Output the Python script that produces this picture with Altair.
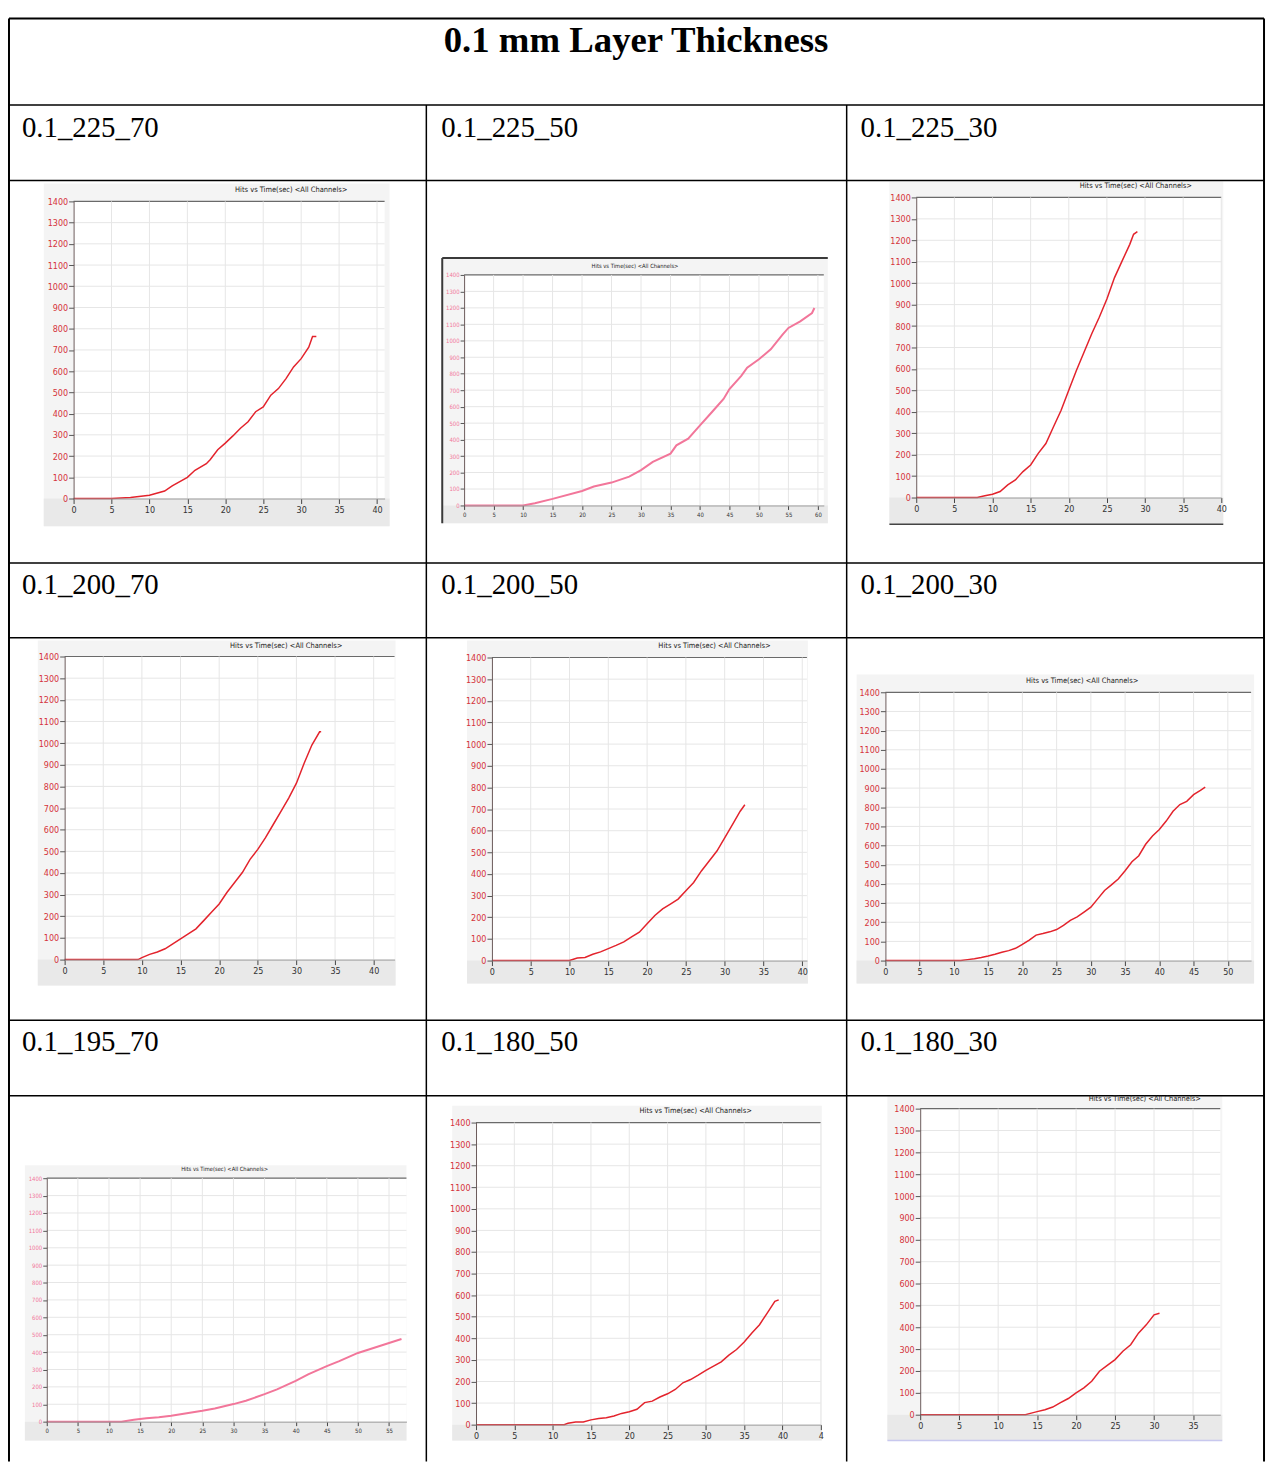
import altair as alt
import pandas as pd

# ---------------- data ----------------
TITLE = "0.1 mm Layer Thickness"
CHART_TITLE = "Hits vs Time(sec) <All Channels>"
LABELS = ["0.1_225_70", "0.1_225_50", "0.1_225_30",
          "0.1_200_70", "0.1_200_50", "0.1_200_30",
          "0.1_195_70", "0.1_180_50", "0.1_180_30"]

YTICKS = [0, 100, 200, 300, 400, 500, 600, 700, 800, 900, 1000, 1100, 1200, 1300, 1400]
XT40 = [0, 5, 10, 15, 20, 25, 30, 35, 40]
XT45 = [0, 5, 10, 15, 20, 25, 30, 35, 40, 45]
XT35 = [0, 5, 10, 15, 20, 25, 30, 35]
XT50 = [0, 5, 10, 15, 20, 25, 30, 35, 40, 45, 50]
XT55 = [0, 5, 10, 15, 20, 25, 30, 35, 40, 45, 50, 55]
XT60 = [0, 5, 10, 15, 20, 25, 30, 35, 40, 45, 50, 55, 60]

T1 = [0, 5, 7.5, 10, 12, 13, 15, 16, 17.5, 18, 19, 20, 21, 22, 23, 24, 25, 26, 27, 28, 29, 30, 31, 31.5, 32]
H1 = [0, 0, 5, 15, 35, 60, 100, 133, 164, 183, 230, 261, 295, 331, 362, 409, 432, 487, 518, 565, 620, 659, 713, 763, 763]

T2 = [0, 10, 12, 15, 20, 22, 25, 28, 30, 32, 35, 36, 38, 40, 42, 44, 45, 47, 48, 50, 52, 54, 55, 57, 59, 59.4]
H2 = [0, 0, 14, 40, 88, 115, 139, 175, 215, 265, 315, 365, 406, 486, 566, 647, 707, 787, 837, 888, 948, 1038, 1078, 1118, 1169, 1199]

T3 = [0, 8, 9, 10, 11, 12, 13, 14, 15, 16, 17, 18, 19, 20, 21, 22, 23, 24, 25, 26, 27, 28, 28.5, 29]
H3 = [0, 0, 8, 15, 28, 59, 82, 121, 152, 206, 252, 330, 407, 500, 593, 678, 763, 841, 926, 1026, 1104, 1181, 1228, 1240]

T4 = [0, 9.5, 10, 11, 12, 13, 14, 15, 16, 17, 18, 19, 20, 21, 22, 23, 24, 25, 26, 27, 28, 29, 30, 31, 32, 33, 33.2]
H4 = [0, 0, 9, 24, 35, 50, 73, 96, 119, 142, 180, 219, 257, 310, 356, 402, 463, 509, 563, 624, 685, 746, 815, 907, 991, 1052, 1052]

T5 = [0, 10, 11, 12, 13, 14, 15, 16, 17, 18, 19, 20, 21, 22, 23, 24, 25, 26, 27, 28, 29, 30, 31, 32, 32.6]
H5 = [0, 0, 12, 14, 29, 40, 55, 70, 86, 109, 131, 170, 208, 239, 261, 284, 323, 361, 414, 460, 506, 567, 628, 690, 720]

T6 = [0, 11, 12, 13, 14, 15, 16, 17, 18, 19, 20, 21, 22, 23, 24, 25, 26, 27, 28, 29,
      30, 31, 32, 33, 34, 35, 36, 37, 38, 39, 40, 41, 42, 43, 44, 45, 46, 46.7]
H6 = [0, 0, 5, 10, 16, 24, 33, 43, 52, 64, 84, 107, 133, 141, 150, 162, 184, 210, 228, 253,
      279, 322, 366, 395, 426, 469, 516, 547, 607, 650, 684, 728, 779, 814, 831, 866, 888, 905]

T7 = [0, 12, 14, 16, 18, 20, 22, 25, 27, 30, 32, 35, 37, 40, 42, 45, 47, 50, 52, 55, 57]
H7 = [0, 0, 11, 19, 25, 34, 46, 63, 76, 101, 120, 158, 186, 234, 272, 319, 348, 395, 418, 452, 475]

T8 = [0, 11.5, 12, 13, 14, 15, 16, 17, 18, 19, 20, 21, 22, 23, 24, 25, 26, 27, 28, 29,
      30, 31, 32, 33, 34, 35, 36, 37, 38, 39, 39.5]
H8 = [0, 0, 6, 12, 12, 22, 28, 32, 40, 52, 60, 71, 102, 109, 128, 143, 163, 194, 209, 229,
      251, 271, 291, 322, 348, 383, 425, 463, 517, 571, 578]

T9 = [0, 13.5, 14, 15, 16, 17, 18, 19, 20, 21, 22, 23, 24, 25, 26, 27, 28, 29, 30, 30.7]
H9 = [0, 0, 5, 14, 23, 35, 55, 74, 100, 123, 153, 199, 226, 252, 290, 320, 373, 411, 457, 464]

SERIES = [(T1, H1), (T2, H2), (T3, H3), (T4, H4), (T5, H5),
          (T6, H6), (T7, H7), (T8, H8), (T9, H9)]
XTICKS = [XT40, XT60, XT40, XT40, XT40, XT50, XT55, XT45, XT35]

# ---------------- layout (page pixels) ----------------
PAGE_W, PAGE_BOTTOM, MARGIN = 1275, 1466, 8
W, H = PAGE_W - MARGIN, PAGE_BOTTOM - MARGIN
NARROW = "Liberation Sans Narrow, Arial Narrow, DejaVu Sans Condensed, sans-serif"
SERIF = "Liberation Serif, Times New Roman, serif"
RED = "#e3232c"
PINK = "#f2769a"

GEOM = [
    dict(x0=74, x1=387, y0=497, y1=198, xmax=41, frame=(44, 180, 392, 525), tpos=(293, 187), small=False),
    dict(x0=467, x1=829, y0=504, y1=272, xmax=61, frame=(445, 255, 833, 522), tpos=(639, 263), small=True),
    dict(x0=922, x1=1229, y0=496, y1=194, xmax=40, frame=(895, 178, 1231, 523), tpos=(1143, 183), small=False),
    dict(x0=65, x1=397, y0=961, y1=656, xmax=42.7, frame=(38, 640, 398, 987), tpos=(288, 645), small=False),
    dict(x0=495, x1=812, y0=962, y1=657, xmax=40.6, frame=(470, 640, 813, 985), tpos=(719, 645), small=False),
    dict(x0=891, x1=1259, y0=962, y1=692, xmax=53.4, frame=(862, 674, 1262, 985), tpos=(1089, 681), small=False),
    dict(x0=47, x1=409, y0=1426, y1=1181, xmax=57.8, frame=(25, 1168, 409, 1445), tpos=(226, 1172), small=True),
    dict(x0=479, x1=826, y0=1429, y1=1125, xmax=45, frame=(455, 1108, 827, 1445), tpos=(700, 1113), small=False),
    dict(x0=926, x1=1228, y0=1419, y1=1111, xmax=38.5, frame=(893, 1098, 1230, 1445), tpos=(1152, 1101), small=False),
]

ROW_LINES = [14, 101, 177, 562, 637, 1022, 1098]
COL_X = [9, 429, 852, 1272]
LABEL_POS = [(22, 133), (444, 133), (866, 133),
             (22, 593), (444, 593), (866, 593),
             (22, 1053), (444, 1053), (866, 1053)]


def px():
    return alt.Scale(domain=[MARGIN, PAGE_W], range=[0, W], nice=False, zero=False)


def py():
    return alt.Scale(domain=[MARGIN, PAGE_BOTTOM], range=[0, H], nice=False, zero=False)


# ---------------- page layer: table, frames, texts ----------------
rect_rows = []
line_rows = []
for g in GEOM:
    fx0, fy0, fx1, fy1 = g["frame"]
    rect_rows.append(dict(x=fx0, x2=fx1, y=fy0, y2=fy1, c="#f4f4f4"))
    rect_rows.append(dict(x=fx0, x2=fx1, y=g["y0"], y2=fy1, c="#e9e9e9"))
    rect_rows.append(dict(x=g["x0"], x2=g["x1"], y=g["y1"], y2=g["y0"], c="#ffffff"))
    line_rows.append(dict(x=g["x0"], x2=g["x1"], y=g["y1"], y2=g["y1"], c="#6a6a6a", w=1.2))

g2 = GEOM[1]["frame"]
line_rows.append(dict(x=g2[0], x2=g2[2], y=g2[1], y2=g2[1], c="#3a3a3a", w=2))
line_rows.append(dict(x=g2[0], x2=g2[0], y=g2[1], y2=g2[3], c="#3a3a3a", w=2))
g3 = GEOM[2]["frame"]
line_rows.append(dict(x=g3[0], x2=g3[2], y=g3[3], y2=g3[3], c="#444444", w=1.5))
g9 = GEOM[8]["frame"]
line_rows.append(dict(x=g9[0], x2=g9[2], y=g9[3], y2=g9[3], c="#c8c8ee", w=1.5))

for i, yy in enumerate(ROW_LINES):
    line_rows.append(dict(x=COL_X[0], x2=COL_X[-1], y=yy, y2=yy, c="#000000", w=2 if i == 0 else 1.5))
line_rows.append(dict(x=COL_X[0], x2=COL_X[0], y=ROW_LINES[0], y2=PAGE_BOTTOM, c="#000000", w=2))
line_rows.append(dict(x=COL_X[-1], x2=COL_X[-1], y=ROW_LINES[0], y2=PAGE_BOTTOM, c="#000000", w=2))
for xx in COL_X[1:-1]:
    line_rows.append(dict(x=xx, x2=xx, y=ROW_LINES[1], y2=PAGE_BOTTOM, c="#000000", w=1.5))

page_rects = alt.Chart(pd.DataFrame(rect_rows)).mark_rect().encode(
    x=alt.X("x:Q", scale=px(), axis=None), x2="x2:Q",
    y=alt.Y("y:Q", scale=py(), axis=None), y2="y2:Q",
    color=alt.Color("c:N", scale=None),
)
page_lines = alt.Chart(pd.DataFrame(line_rows)).mark_rule().encode(
    x=alt.X("x:Q", scale=px(), axis=None), x2="x2:Q",
    y=alt.Y("y:Q", scale=py(), axis=None), y2="y2:Q",
    color=alt.Color("c:N", scale=None),
    strokeWidth=alt.StrokeWidth("w:Q", scale=None),
)
title_text = alt.Chart(pd.DataFrame([dict(x=640, y=48, s=TITLE)])).mark_text(
    font=SERIF, fontSize=37, fontWeight="bold", align="center", baseline="alphabetic", color="#000000"
).encode(x=alt.X("x:Q", scale=px(), axis=None), y=alt.Y("y:Q", scale=py(), axis=None), text="s:N")

label_text = alt.Chart(pd.DataFrame(
    [dict(x=p[0], y=p[1], s=l) for p, l in zip(LABEL_POS, LABELS)]
)).mark_text(
    font=SERIF, fontSize=29, align="left", baseline="alphabetic", color="#000000"
).encode(x=alt.X("x:Q", scale=px(), axis=None), y=alt.Y("y:Q", scale=py(), axis=None), text="s:N")

ct_rows = [dict(x=g["tpos"][0], y=g["tpos"][1], s=CHART_TITLE, f=5.8 if g["small"] else 7.5) for g in GEOM]
chart_titles = alt.Chart(pd.DataFrame(ct_rows)).mark_text(
    font=NARROW, align="center", baseline="middle", color="#222222"
).encode(x=alt.X("x:Q", scale=px(), axis=None), y=alt.Y("y:Q", scale=py(), axis=None), text="s:N",
         size=alt.Size("f:Q", scale=None))

layers = [page_rects, page_lines, title_text, label_text, chart_titles]


# ---------------- chart panels ----------------
def panel(i):
    g = GEOM[i]
    T, Hs = SERIES[i]
    xt = XTICKS[i]
    small = g["small"]
    fs = 6 if small else 9
    col = PINK if small else RED

    def xs():
        return alt.Scale(domain=[0, g["xmax"]], range=[g["x0"] - MARGIN, g["x1"] - MARGIN], nice=False, zero=False)

    def ys():
        return alt.Scale(domain=[0, 1400], range=[g["y0"] - MARGIN, g["y1"] - MARGIN], nice=False, zero=False)

    vg = alt.Chart(pd.DataFrame({"t": xt[1:], "lo": 0, "hi": 1400})).mark_rule(
        color="#e6e6e6", strokeWidth=1
    ).encode(x=alt.X("t:Q", scale=xs(), axis=None), y=alt.Y("lo:Q", scale=ys(), axis=None), y2="hi:Q")
    hg = alt.Chart(pd.DataFrame({"h": YTICKS[1:-1], "lo": 0, "hi": g["xmax"]})).mark_rule(
        color="#e6e6e6", strokeWidth=1
    ).encode(y=alt.Y("h:Q", scale=ys(), axis=None), x=alt.X("lo:Q", scale=xs(), axis=None), x2="hi:Q")

    xaxis_kw = dict(
        orient="bottom", offset=g["y0"] - MARGIN - H, values=xt, title=None, grid=False,
        domainColor="#9a9a9a", tickColor="#444444", tickSize=5 if not small else 4,
        labelColor="#333333", labelFont=NARROW, labelFontSize=fs, labelPadding=2,
        labelFlush=False, labelOverlap=False, format="d", zindex=1,
    )
    if i == 7:
        xaxis_kw["labelExpr"] = "datum.value == 45 ? '4' : datum.label"
    xaxis = alt.Axis(**xaxis_kw)
    yaxis = alt.Axis(
        orient="left", offset=MARGIN - g["x0"], values=YTICKS, title=None, grid=False,
        domainColor="#6a5a5a", tickColor="#555555", tickSize=5 if not small else 4,
        labelColor=col if small else "#d4333b", labelFont=NARROW, labelFontSize=fs,
        labelPadding=1, labelFlush=False, labelOverlap=False, format="d", zindex=1,
    )
    line = alt.Chart(pd.DataFrame({"t": T, "h": Hs})).mark_line(
        color=col, strokeWidth=2 if small else 1.5
    ).encode(x=alt.X("t:Q", scale=xs(), axis=xaxis), y=alt.Y("h:Q", scale=ys(), axis=yaxis))
    return [vg, hg, line]


for i in range(9):
    layers.extend(panel(i))

chart = alt.layer(*layers).resolve_scale(
    x="independent", y="independent"
).resolve_axis(
    x="independent", y="independent"
).properties(
    width=W, height=H, autosize=alt.AutoSizeParams(type="none"), padding=0, background="#ffffff"
).configure_view(strokeWidth=0)

chart.save("out.html", embed_options={"renderer": "svg", "actions": False})
